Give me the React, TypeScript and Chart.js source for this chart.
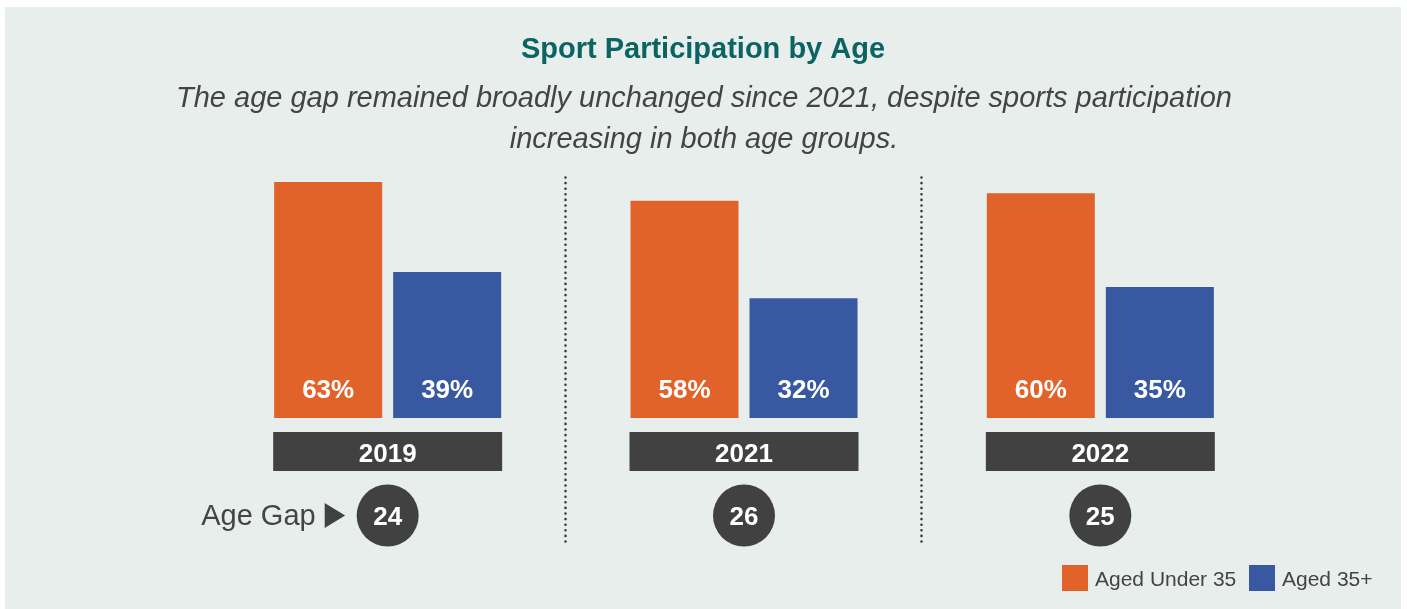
import React, { useEffect, useRef } from "react";
import { Chart, registerables } from "chart.js";

Chart.register(...registerables);

const years = ["2019", "2021", "2022"];
const under35 = [63, 58, 60];
const over35 = [39, 32, 35];
const seriesNames = ["Aged Under 35", "Aged 35+"];
const titleText = "Sport Participation by Age";
const subtitleLines = [
  "The age gap remained broadly unchanged since 2021, despite sports participation",
  "increasing in both age groups.",
];
const gapLabel = "Age Gap";

const ORANGE = "#e2632a";
const BLUE = "#3859a1";
const DARK = "#414141";
const TEAL = "#0b6461";
const TEXT = "#444444";
const BG = "#e8eeec";
const FONT = "'Liberation Sans', Arial, Helvetica, sans-serif";

const W = 1407;
const H = 609;

const decorPlugin = {
  id: "decor",
  beforeDraw(chart: any) {
    const ctx = chart.ctx;
    ctx.save();
    ctx.fillStyle = "#ffffff";
    ctx.fillRect(0, 0, W, H);
    ctx.fillStyle = BG;
    ctx.fillRect(5, 7, 1396, 602);
    ctx.restore();
  },
  afterDatasetsDraw(chart: any) {
    const ctx = chart.ctx;
    const xs = chart.scales.x;
    const ys = chart.scales.y;
    const base = ys.getPixelForValue(0);
    ctx.save();

    // title
    ctx.textAlign = "center";
    ctx.textBaseline = "alphabetic";
    ctx.fillStyle = TEAL;
    ctx.font = `bold 29px ${FONT}`;
    ctx.fillText(titleText, 703, 57.5);
    ctx.fillStyle = TEXT;
    ctx.font = `italic 29px ${FONT}`;
    ctx.fillText(subtitleLines[0], 704, 107.3);
    ctx.fillText(subtitleLines[1], 704, 147.5);

    // value labels
    ctx.fillStyle = "#ffffff";
    ctx.font = `bold 26px ${FONT}`;
    chart.data.datasets.forEach((ds: any, di: number) => {
      const meta = chart.getDatasetMeta(di);
      meta.data.forEach((bar: any, i: number) => {
        ctx.fillText(`${ds.data[i]}%`, bar.x, base - 20);
      });
    });

    years.forEach((yr, i) => {
      const cx = xs.getPixelForValue(i);
      // year box
      ctx.fillStyle = DARK;
      ctx.fillRect(cx - 114.5, 432, 229, 39);
      ctx.fillStyle = "#ffffff";
      ctx.font = `bold 26px ${FONT}`;
      ctx.fillText(yr, cx, 461.5);
      // circle
      ctx.fillStyle = DARK;
      ctx.beginPath();
      ctx.arc(cx, 515.5, 31, 0, Math.PI * 2);
      ctx.fill();
      ctx.fillStyle = "#ffffff";
      ctx.fillText(String(under35[i] - over35[i]), cx, 524.5);

      // dividers
      if (i < years.length - 1) {
        const nx = xs.getPixelForValue(i + 1);
        const dx = Math.round((cx + nx) / 2) - 0.5;
        ctx.strokeStyle = "#3a3a3a";
        ctx.lineWidth = 2.6;
        ctx.lineCap = "round";
        ctx.setLineDash([0, 5.6]);
        ctx.beginPath();
        ctx.moveTo(dx, 177.5);
        ctx.lineTo(dx, 547);
        ctx.stroke();
        ctx.setLineDash([]);
      }
    });

    // Age Gap label with arrow
    const c0 = xs.getPixelForValue(0);
    ctx.fillStyle = TEXT;
    ctx.textAlign = "right";
    ctx.font = `29px ${FONT}`;
    ctx.fillText(gapLabel, c0 - 72, 525);
    ctx.fillStyle = DARK;
    ctx.beginPath();
    ctx.moveTo(c0 - 63, 503);
    ctx.lineTo(c0 - 42.5, 515.5);
    ctx.lineTo(c0 - 63, 528);
    ctx.closePath();
    ctx.fill();

    // legend
    ctx.textAlign = "left";
    ctx.font = `21px ${FONT}`;
    const colors = [ORANGE, BLUE];
    const legendX = [1062, 1249];
    seriesNames.forEach((name, i) => {
      ctx.fillStyle = colors[i];
      ctx.fillRect(legendX[i], 565, 26, 26);
      ctx.fillStyle = TEXT;
      ctx.fillText(name, legendX[i] + 33, 585.5);
    });

    ctx.restore();
  },
};

export default function App() {
  const ref = useRef<HTMLCanvasElement | null>(null);

  useEffect(() => {
    document.body.style.margin = "0";
    const canvas = ref.current;
    if (!canvas) return;
    const chart = new Chart(canvas, {
      type: "bar",
      data: {
        labels: years,
        datasets: [
          {
            label: seriesNames[0],
            data: under35,
            backgroundColor: ORANGE,
            borderWidth: 0,
            categoryPercentage: 0.668,
            barPercentage: 0.9076,
          },
          {
            label: seriesNames[1],
            data: over35,
            backgroundColor: BLUE,
            borderWidth: 0,
            categoryPercentage: 0.668,
            barPercentage: 0.9076,
          },
        ],
      },
      options: {
        responsive: false,
        animation: false,
        layout: {
          padding: { left: 209.5, right: 128.5, top: 43.4, bottom: 191 },
        },
        scales: {
          x: { display: false },
          y: { display: false, min: 0, max: 100 },
        },
        plugins: {
          legend: { display: false },
          title: { display: false },
          tooltip: { enabled: false },
        },
      },
      plugins: [decorPlugin],
    });
    return () => chart.destroy();
  }, []);

  return (
    <div style={{ position: "fixed", left: 0, top: 0, width: W, height: H, background: "#fff" }}>
      <canvas ref={ref} width={W} height={H} style={{ display: "block", width: W, height: H }} />
    </div>
  );
}
